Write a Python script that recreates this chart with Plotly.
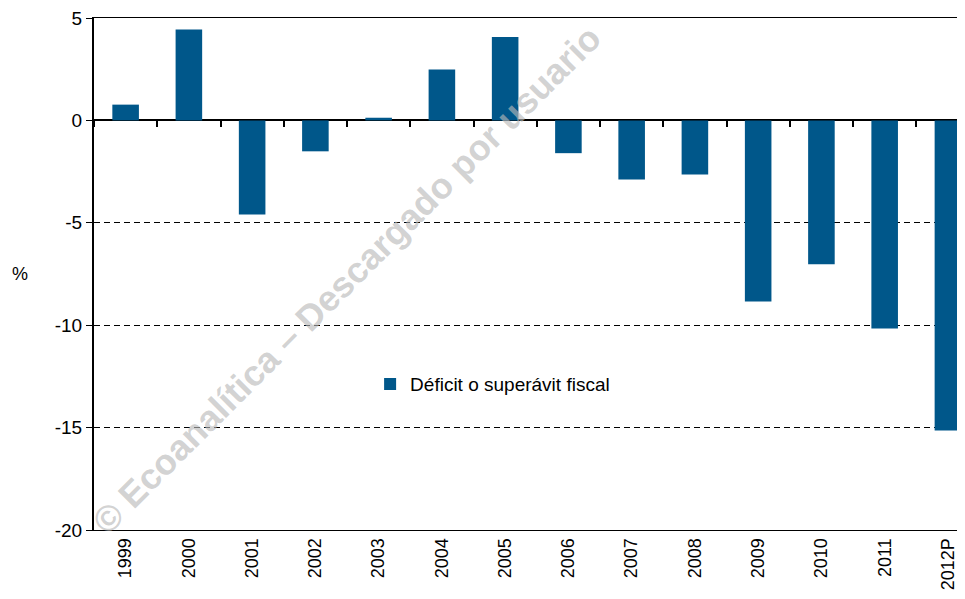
import plotly.graph_objects as go

years = ['1999', '2000', '2001', '2002', '2003', '2004', '2005', '2006',
         '2007', '2008', '2009', '2010', '2011', '2012P']
balance = [0.77, 4.44, -4.59, -1.51, 0.13, 2.49, 4.07, -1.6,
           -2.88, -2.64, -8.84, -7.03, -10.16, -15.14]
y_ticks = [5, 0, -5, -10, -15, -20]
y_labels = ['5', '0', '-5', '-10', '-15', '-20']

font = 'Arial, Liberation Sans, sans-serif'

fig = go.Figure()
fig.add_trace(go.Bar(x=years, y=balance, name='Déficit o superávit fiscal',
                     marker=dict(color='#00578A', line=dict(width=0))))
# invisible copy on the overlay axis so its boundary ticks get drawn on the zero line
fig.add_trace(go.Scatter(x=years, y=balance, xaxis='x2', mode='none',
                         showlegend=False, hoverinfo='skip'))

fig.update_layout(
    width=957, height=583,
    margin=dict(l=86, r=0, t=10, b=61),
    paper_bgcolor='white', plot_bgcolor='white',
    font=dict(family=font, color='black', size=18),
    bargap=0.58,
    showlegend=True,
    legend=dict(x=0.317, y=0.322, xanchor='left', yanchor='top',
                bgcolor='rgba(0,0,0,0)', font=dict(size=19),
                itemwidth=30),
    xaxis=dict(type='category', categoryorder='array', categoryarray=years,
               range=[-0.5, 13.27], tickangle=-90, ticks='', showgrid=False,
               showline=True, mirror=True, linecolor='black', linewidth=1,
               zeroline=False, tickfont=dict(size=18)),
    xaxis2=dict(type='category', categoryorder='array', categoryarray=years,
                overlaying='x', matches='x', anchor='free', position=0.8,
                ticks='outside', ticklen=6, tickwidth=2, tickcolor='black',
                tickson='boundaries', showticklabels=False, showgrid=False,
                showline=False, zeroline=False),
    yaxis=dict(range=[-20, 5], tickvals=y_ticks, ticktext=y_labels,
               ticks='outside', ticklen=6, tickwidth=1, tickcolor='black',
               showline=True, linecolor='black', linewidth=2,
               showgrid=True, gridcolor='black', gridwidth=1, griddash='6px,4px',
               zeroline=True, zerolinecolor='black', zerolinewidth=2,
               ticklabeloverflow='allow', tickfont=dict(size=19)),
)

# axis title "%" written horizontally, left of the tick labels
fig.add_annotation(text='%', xref='paper', yref='paper', x=-0.085, y=0.5,
                   xanchor='center', yanchor='middle', showarrow=False,
                   font=dict(size=18, family=font))

# watermark
fig.add_annotation(text='<b>© Ecoanalítica – Descargado por usuario</b>',
                   xref='paper', yref='paper', x=0.29, y=0.49,
                   xanchor='center', yanchor='middle', textangle=-45,
                   showarrow=False,
                   font=dict(size=36, family=font, color='rgba(185,185,185,0.65)'))

fig.write_html('out.html')
